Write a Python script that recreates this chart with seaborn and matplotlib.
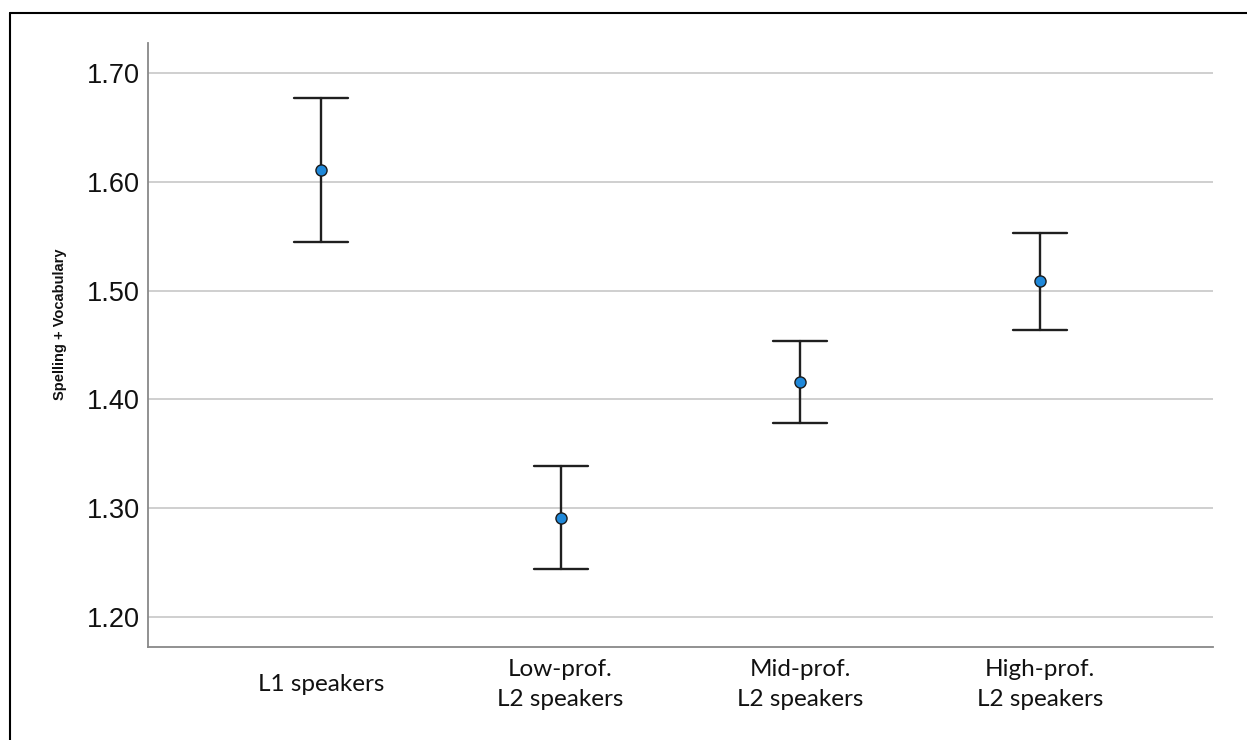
import matplotlib
matplotlib.use("Agg")
import matplotlib.pyplot as plt
import seaborn as sns
import pandas as pd
from matplotlib.lines import Line2D

categories = ["L1 speakers", "Low-prof.\nL2 speakers", "Mid-prof.\nL2 speakers", "High-prof.\nL2 speakers"]
means = [1.611, 1.291, 1.416, 1.509]
lower = [1.545, 1.244, 1.378, 1.464]
upper = [1.677, 1.339, 1.454, 1.553]
yticks = [1.20, 1.30, 1.40, 1.50, 1.60, 1.70]

rows = []
for c, lo, m, hi in zip(categories, lower, means, upper):
    for v in (lo, m, hi):
        rows.append({"group": c, "value": v})
df = pd.DataFrame(rows)

sns.set_theme(style="white")
fig = plt.figure(figsize=(12.47, 7.40), dpi=100)
ax = fig.add_axes([148/1247, 1-647/740, (1213-148)/1247, (647-43)/740])

ax.set_yticks(yticks)
ax.yaxis.grid(True, color="#cccccc", linewidth=1.3)
ax.set_axisbelow(True)

sns.pointplot(data=df, x="group", y="value", order=categories,
              estimator="median", errorbar=("pi", 100),
              linestyle="none", capsize=0.225, color="#1f1f1f",
              err_kws={"linewidth": 1.7, "color": "#1f1f1f"},
              markers="o", ax=ax)
for line in ax.lines:
    if line.get_marker() == "o":
        line.set_markerfacecolor("#1f88d9")
        line.set_markeredgecolor("#1a1a1a")
        line.set_markersize(8)
        line.set_markeredgewidth(1.0)
        line.set_zorder(5)

ax.set_xlim(-0.72, 3.72)
ax.set_ylim(1.1724, 1.7276)
ax.set_yticks(yticks)
ax.set_yticklabels([f"{t:.2f}" for t in yticks], fontsize=19.5, family="Liberation Sans", color="#111111")
ax.set_xticks(range(len(categories)))
ax.set_xticklabels(categories, fontsize=17.5, family="Lato", color="#111111",
                   va="center", linespacing=1.5)
ax.tick_params(axis="y", length=0, pad=6)
ax.tick_params(axis="x", length=0, pad=27)
ax.set_xlabel("")
ax.set_ylabel("Spelling + Vocabulary", fontsize=10.5, fontweight="bold",
              family="Liberation Sans", color="#111111")
ax.yaxis.set_label_coords(-0.076, 0.535)

for s in ["top", "right"]:
    ax.spines[s].set_visible(False)
for s in ["left", "bottom"]:
    ax.spines[s].set_color("#888888")
    ax.spines[s].set_linewidth(1.3)

fig.add_artist(Line2D([9.5/1247, 1.0], [1-13/740, 1-13/740], color="black", linewidth=1.5,
                      transform=fig.transFigure))
fig.add_artist(Line2D([9.5/1247, 9.5/1247], [0.0, 1-13/740], color="black", linewidth=1.5,
                      transform=fig.transFigure))

fig.savefig("out.png", dpi=100)
